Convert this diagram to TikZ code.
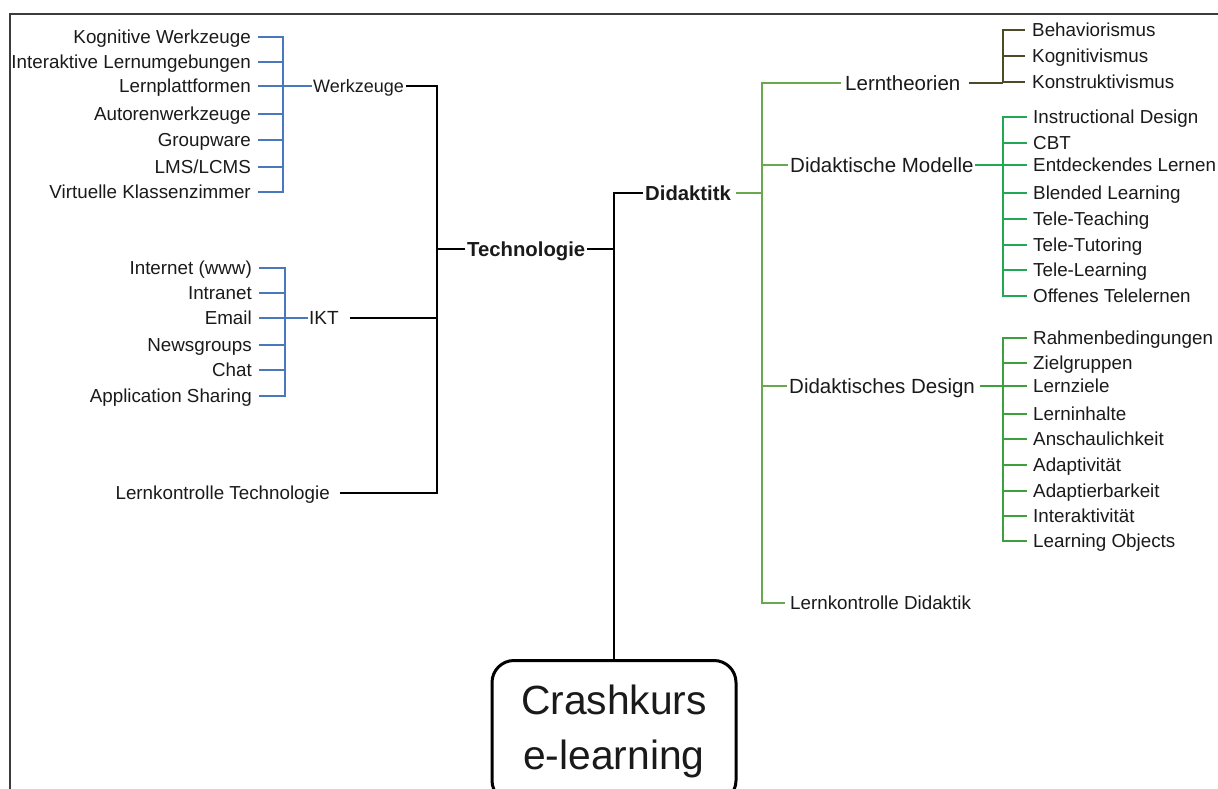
\documentclass[tikz,border=0pt]{standalone}
\usepackage{fontspec}
\setmainfont{Liberation Sans}
\definecolor{txt}{RGB}{26,26,26}
\definecolor{frm}{RGB}{60,60,60}
\definecolor{blu}{RGB}{74,120,190}
\definecolor{gmain}{RGB}{106,168,79}
\definecolor{gmod}{RGB}{34,168,84}
\definecolor{gdes}{RGB}{60,160,60}
\definecolor{brn}{RGB}{79,74,38}
\begin{document}
\begin{tikzpicture}[x=1pt,y=-1pt,
  % labels are centred on the middle of their capitals
  lbl/.style={inner sep=0pt, text depth=0pt, text=txt},
  leaf/.style={lbl, text height=13.46pt, font=\fontsize{18.8}{22}\selectfont},
  midlbl/.style={lbl, text height=14.68pt, font=\fontsize{20.5}{24}\selectfont},
  boldlbl/.style={lbl, text height=14.53pt, font=\fontsize{20.3}{24}\selectfont\bfseries},
  wire/.style={line width=2pt},
  brk/.style={line width=2.4pt, line join=miter},
  rootbox/.style={draw=black, line width=3pt, rounded corners=22pt, text=txt,
    minimum width=244pt, minimum height=142pt, align=center,
    font=\fontsize{40.8}{55}\selectfont},
  frame/.style={draw=frm, line width=2pt}]
\useasboundingbox (0,0) rectangle (1218,789);
\clip (0,0) rectangle (1218,789);

% outer frame (top and left edges)
\draw[frame] (10,820) -- (10,14) -- (1240,14);

% bar positions
\coordinate (barW) at (283,0);
\coordinate (barI) at (285,0);
\coordinate (barT) at (437,0);
\coordinate (barD) at (762,0);
\coordinate (barR) at (1003,0);

% ---------- root ----------
\node[rootbox, anchor=north] (root) at (614,659) {Crashkurs\\e-learning};

% ---------- Technologie branch ----------
\node[boldlbl, anchor=west] (tech) at (467,249) {Technologie};
\node[boldlbl, anchor=west] (did)  at (645,193) {Didaktitk};

% Werkzeuge leaves
\node[leaf, anchor=east] (k1) at (251,37)  {Kognitive Werkzeuge};
\node[leaf, anchor=east] (k2) at (251,62)  {Interaktive Lernumgebungen};
\node[leaf, anchor=east] (k3) at (251,86)  {Lernplattformen};
\node[leaf, anchor=east] (k4) at (251,114) {Autorenwerkzeuge};
\node[leaf, anchor=east] (k5) at (251,140) {Groupware};
\node[leaf, anchor=east] (k6) at (251,167) {LMS/LCMS};
\node[leaf, anchor=east] (k7) at (251,192) {Virtuelle Klassenzimmer};
\node[lbl, text height=12.89pt, font=\fontsize{18}{22}\selectfont, anchor=west] (wz) at (313,86) {Werkzeuge};

% IKT leaves
\node[leaf, anchor=east] (i1) at (252,268) {Internet (www)};
\node[leaf, anchor=east] (i2) at (252,293) {Intranet};
\node[leaf, anchor=east] (i3) at (252,318) {Email};
\node[leaf, anchor=east] (i4) at (252,345) {Newsgroups};
\node[leaf, anchor=east] (i5) at (252,370) {Chat};
\node[leaf, anchor=east] (i6) at (252,396) {Application Sharing};
\node[lbl, text height=13.6pt, font=\fontsize{19}{22}\selectfont, anchor=west] (ikt) at (309,318) {IKT};

\node[leaf, anchor=east] (lkt) at (330,493) {Lernkontrolle Technologie};

% Werkzeuge bracket
\draw[brk, blu] ([xshift=7pt]k1.east) -| (barW |- k7.east) -- ([xshift=7pt]k7.east);
\foreach \n in {k2,k3,k4,k5,k6}
  \draw[brk, blu] ([xshift=7pt]\n.east) -- (barW |- \n.east);
\draw[wire, blu] (barW |- wz.west) -- ([xshift=-1pt]wz.west);

% IKT bracket
\draw[brk, blu] ([xshift=7pt]i1.east) -| (barI |- i6.east) -- ([xshift=7pt]i6.east);
\foreach \n in {i2,i3,i4,i5}
  \draw[brk, blu] ([xshift=7pt]\n.east) -- (barI |- \n.east);
\draw[wire, blu] (barI |- ikt.west) -- ([xshift=-1pt]ikt.west);

% Technologie spine
\draw[wire, black, line join=miter] ([xshift=2pt]wz.east) -| (barT |- lkt.east) -- ([xshift=10pt]lkt.east);
\draw[wire, black] ([xshift=11pt]ikt.east) -- (barT |- ikt.east);
\draw[wire, black] (barT |- tech.west) -- ([xshift=-2pt]tech.west);

% trunk to root
\draw[wire, black] ([xshift=2pt]tech.east) -- (tech.east -| root.north);
\draw[wire, black, line join=miter] ([xshift=-2pt]did.west) -| (root.north);

% ---------- Didaktik branch ----------
\node[midlbl, anchor=west] (lt)  at (845,83)  {Lerntheorien};
\node[midlbl, anchor=west] (dm)  at (790,165) {Didaktische Modelle};
\node[midlbl, anchor=west] (dd)  at (789,386) {Didaktisches Design};
\node[leaf,   anchor=west] (lkd) at (790,603) {Lernkontrolle Didaktik};

\draw[wire, gmain] ([xshift=5pt]did.east) -- (barD |- did.east);
\draw[wire, gmain, line join=miter] ([xshift=-4pt]lt.west) -| (barD |- lkd.west) -- ([xshift=-5pt]lkd.west);
\draw[wire, gmain] (barD |- dm.west) -- ([xshift=-2pt]dm.west);
\draw[wire, gmain] (barD |- dd.west) -- ([xshift=-2pt]dd.west);

% Lerntheorien leaves
\node[leaf, anchor=west] (b1) at (1032,30) {Behaviorismus};
\node[leaf, anchor=west] (b2) at (1032,56) {Kognitivismus};
\node[leaf, anchor=west] (b3) at (1032,82) {Konstruktivismus};
\draw[brk, brn] ([xshift=-7pt]b1.west) -| (barR |- b3.west) -- ([xshift=-7pt]b3.west);
\draw[brk, brn] ([xshift=-7pt]b2.west) -- (barR |- b2.west);
\draw[wire, brn] ([xshift=8pt]lt.east) -- (barR |- lt.east);

% Didaktische Modelle leaves
\node[leaf, anchor=west] (m1) at (1033,117) {Instructional Design};
\node[leaf, anchor=west] (m2) at (1033,143) {CBT};
\node[leaf, anchor=west] (m3) at (1033,165) {Entdeckendes Lernen};
\node[leaf, anchor=west] (m4) at (1033,193) {Blended Learning};
\node[leaf, anchor=west] (m5) at (1033,219) {Tele-Teaching};
\node[leaf, anchor=west] (m6) at (1033,245) {Tele-Tutoring};
\node[leaf, anchor=west] (m7) at (1033,270) {Tele-Learning};
\node[leaf, anchor=west] (m8) at (1033,296) {Offenes Telelernen};
\draw[brk, gmod] ([xshift=-6pt]m1.west) -| (barR |- m8.west) -- ([xshift=-6pt]m8.west);
\foreach \n in {m2,m3,m4,m5,m6,m7}
  \draw[brk, gmod] ([xshift=-6pt]\n.west) -- (barR |- \n.west);
\draw[wire, gmod] ([xshift=1pt]dm.east) -- (barR |- dm.east);

% Didaktisches Design leaves
\node[leaf, anchor=west] (d1) at (1033,338) {Rahmenbedingungen};
\node[leaf, anchor=west] (d2) at (1033,363) {Zielgruppen};
\node[leaf, anchor=west] (d3) at (1033,386) {Lernziele};
\node[leaf, anchor=west] (d4) at (1033,414) {Lerninhalte};
\node[leaf, anchor=west] (d5) at (1033,439) {Anschaulichkeit};
\node[leaf, anchor=west] (d6) at (1033,465) {Adaptivität};
\node[leaf, anchor=west] (d7) at (1033,491) {Adaptierbarkeit};
\node[leaf, anchor=west] (d8) at (1033,516) {Interaktivität};
\node[leaf, anchor=west] (d9) at (1033,541) {Learning Objects};
\draw[brk, gdes] ([xshift=-6pt]d1.west) -| (barR |- d9.west) -- ([xshift=-6pt]d9.west);
\foreach \n in {d2,d3,d4,d5,d6,d7,d8}
  \draw[brk, gdes] ([xshift=-6pt]\n.west) -- (barR |- \n.west);
\draw[wire, gdes] ([xshift=5pt]dd.east) -- (barR |- dd.east);
\end{tikzpicture}
\end{document}
